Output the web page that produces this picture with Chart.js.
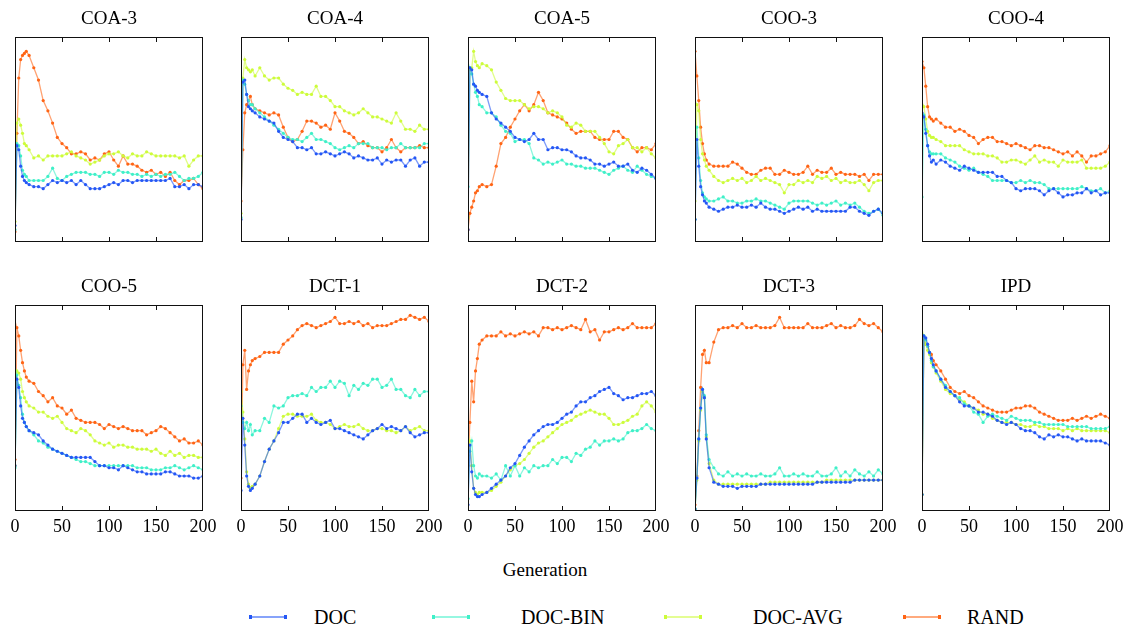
<!DOCTYPE html>
<html>
<head>
<meta charset="utf-8">
<script src="https://cdn.jsdelivr.net/npm/chart.js@4.4.1/dist/chart.umd.min.js"></script>
<style>
  html, body { margin: 0; padding: 0; background: #fff; }
  #page { position: relative; width: 1128px; height: 628px; overflow: hidden; font-family: 'Liberation Serif', serif; color: #000; }
  .panel { position: absolute; }
  #xlabel { position: absolute; left: 445px; width: 200px; top: 559px; text-align: center; font-size: 19px; }
  .lg-line { position: absolute; height: 2px; top: 616px; width: 36px; }
  .lg-line::before, .lg-line::after { content: ''; position: absolute; top: -1px; width: 3px; height: 4px; background: var(--c); }
  .lg-line::before { left: -1px; }
  .lg-line::after { right: -1px; }
  .lg-text { position: absolute; top: 605px; font-size: 20px; line-height: 24px; }
</style>
</head>
<body>
<div id="page"><div id="xlabel">Generation</div></div>
<script>
// generation at which each value was read
const generations = [0, 2, 4, 6, 8, 10, 12, 15,
  20, 25, 30, 35, 40, 45, 50, 55, 60, 65, 70, 75, 80, 85, 90, 95,
  100, 105, 110, 115, 120, 125, 130, 135, 140, 145, 150, 155, 160, 165, 170, 175,
  180, 185, 190, 195, 200];

const seriesNames = ['DOC', 'DOC-BIN', 'DOC-AVG', 'RAND'];
const seriesColors = ['#2457f5', '#3ff0c8', '#cdfc3a', '#ff6414'];
const panelTitles = ['COA-3', 'COA-4', 'COA-5', 'COO-3', 'COO-4', 'COO-5', 'DCT-1', 'DCT-2', 'DCT-3', 'IPD'];
const xTicks = [0, 50, 100, 150, 200];

// values on a 0-100 scale (no y labels in the source)
const coa3Doc  = [8,47,45,37,32,30,29,28, 27,27,26,28,30,29,30,29, 30,28,30,28,26,26,26,27, 28,29,28,30,30,29,30,30, 30,30,30,30,30,31,27,27, 28,26,28,28,27];
const coa3Bin  = [6,48,47,42,35,33,32,30, 30,30,30,32,36,31,30,32, 33,34,34,34,33,33,32,34, 34,33,35,34,34,33,33,32, 33,32,33,32,33,33,34,32, 30,31,31,32,34];
const coa3Avg  = [10,58,60,57,53,48,47,45, 41,42,40,42,42,42,42,43, 44,42,41,40,38,39,40,42, 43,43,44,42,41,43,42,42, 44,43,42,42,42,42,42,41, 42,37,40,42,42];
const coa3Rand = [5,53,80,89,91,92,93,91, 85,79,69,64,58,51,48,46, 43,43,44,43,40,41,40,43, 44,40,37,42,38,38,37,35, 34,35,33,34,32,34,30,28, 30,30,31,28,26];

const coa4Doc  = [11,78,79,72,66,65,64,63, 61,60,59,58,54,51,50,49, 46,46,45,46,43,43,44,43, 42,43,44,43,41,42,41,40, 40,41,38,40,39,40,40,37, 40,41,37,39,39];
const coa4Bin  = [12,79,77,72,69,67,67,65, 63,61,59,57,55,53,51,50, 50,49,51,53,50,50,49,48, 46,45,46,47,46,48,48,48, 46,46,46,45,46,46,48,46, 46,46,46,48,48];
const coa4Avg  = [14,80,89,85,84,83,84,81, 85,81,79,80,80,77,75,74, 72,73,72,72,76,71,71,69, 66,66,64,63,62,63,65,63, 61,61,60,59,58,63,59,55, 55,54,57,55,55];
const coa4Rand = [20,45,63,67,69,71,67,65, 64,63,62,63,62,56,51,49, 50,54,59,59,58,56,57,55, 63,59,54,53,51,48,49,47, 46,46,44,46,50,46,44,46, 46,46,47,46,46];

const coa5Doc  = [6,85,84,77,76,74,73,72, 71,63,60,58,56,54,51,50, 49,50,53,50,50,45,46,46, 45,45,44,42,41,41,40,38, 38,37,38,39,37,37,38,35, 34,36,35,33,31];
const coa5Bin  = [27,85,82,77,73,71,67,66, 63,63,61,57,54,53,49,50, 50,48,41,40,38,39,38,39, 40,38,38,37,37,36,36,36, 35,34,33,35,36,37,35,34, 37,35,33,32,31];
const coa5Avg  = [12,84,85,93,88,86,85,87, 86,84,78,74,70,69,69,69, 67,65,66,66,65,63,64,63, 61,57,56,58,57,54,54,54, 51,48,44,43,47,48,50,46, 46,44,46,43,41];
const coa5Rand = [6,14,17,20,24,25,27,28, 27,28,37,48,51,56,60,64, 67,64,67,73,69,63,62,61, 60,58,55,53,54,54,54,51, 50,50,50,54,54,51,50,46, 44,46,46,45,48];

const coo3Doc  = [11,50,37,27,23,20,19,17, 16,15,16,17,17,18,17,17, 18,17,19,17,16,16,15,14, 15,16,17,16,17,15,16,15, 15,15,15,15,15,17,17,15, 14,13,15,16,14];
const coo3Bin  = [11,56,41,30,24,22,21,20, 20,21,22,20,20,19,19,20, 20,21,20,20,19,18,17,16, 19,20,20,20,20,19,18,19, 18,19,20,18,19,18,19,17, 15,14,15,16,13];
const coo3Avg  = [20,67,64,50,43,40,37,35, 32,30,29,30,31,30,31,29, 30,32,30,31,30,29,28,24, 28,28,30,29,30,29,32,31, 32,30,31,29,30,29,29,30, 28,25,29,30,30];
const coo3Rand = [93,81,69,56,48,43,40,38, 37,37,37,37,39,38,36,34, 33,33,35,36,36,33,33,35, 34,33,33,34,37,33,35,34, 34,36,33,34,33,33,33,32, 33,30,33,33,33];

const coo4Doc  = [63,61,53,47,42,39,40,38, 40,39,37,36,35,37,36,35, 34,34,34,34,32,32,30,29, 26,25,26,26,26,25,23,25, 26,24,22,23,23,24,24,26, 24,25,23,24,24];
const coo4Bin  = [22,62,55,47,44,43,43,43, 43,41,40,39,37,36,35,36, 34,33,32,30,30,30,30,29, 29,30,29,30,29,29,28,26, 26,26,26,26,26,26,27,26, 25,25,26,24,25];
const coo4Avg  = [67,66,60,54,52,51,51,50, 49,47,47,47,47,45,44,43, 43,43,42,42,41,39,39,40, 40,39,38,40,42,39,40,39, 39,37,40,39,39,39,40,36, 36,36,36,37,39];
const coo4Rand = [88,85,76,66,61,60,59,60, 58,56,56,54,55,54,52,51, 48,50,51,51,49,49,48,47, 48,47,46,45,47,47,46,46, 45,44,43,44,42,44,42,39, 42,42,43,44,47];

const coo5Doc  = [22,64,60,51,45,43,41,39, 38,37,34,32,30,29,28,27, 26,26,26,26,26,24,22,22, 21,21,20,22,21,20,19,19, 18,18,18,18,19,19,18,17, 17,17,16,16,17];
const coo5Bin  = [21,66,61,55,47,43,41,39, 37,34,33,31,30,29,28,27, 26,25,24,24,23,22,22,22, 22,22,22,22,22,22,21,21, 21,20,20,20,21,21,22,21, 20,21,22,21,20];
const coo5Avg  = [22,68,67,64,58,55,53,51, 50,48,48,46,45,46,43,40, 39,38,40,39,37,34,33,32, 33,31,32,32,31,31,30,30, 30,29,30,28,27,29,27,28, 26,27,27,26,26];
const coo5Rand = [25,89,85,78,72,68,65,63, 62,58,56,53,55,51,50,47, 49,45,44,43,43,43,42,40, 42,41,40,41,40,39,39,39, 37,38,39,41,40,38,36,34, 35,33,33,34,32];

const dct1Doc  = [10,45,32,17,12,10,11,13, 17,24,30,34,38,43,43,45, 47,47,43,45,43,42,43,44, 40,40,39,38,37,36,35,37, 39,40,42,40,41,40,39,41, 38,36,37,38,38];
const dct1Bin  = [51,43,40,43,39,42,37,39, 39,45,43,51,50,51,55,56, 56,57,56,60,58,60,60,63, 60,63,62,56,61,59,62,61, 64,64,60,61,64,59,59,56, 55,59,56,58,58];
const dct1Avg  = [58,48,35,19,13,11,12,13, 17,24,30,34,40,46,47,47, 46,46,46,47,44,43,43,42, 40,41,42,41,41,42,40,39, 39,40,40,39,39,38,39,41, 39,40,41,39,39];
const dct1Rand = [16,71,78,59,68,71,73,74, 75,77,77,77,77,81,83,85, 88,90,91,90,89,90,91,92, 94,91,91,92,91,92,90,91, 89,90,90,90,91,92,93,93, 95,94,93,94,92];

const dct2Doc  = [3,32,19,11,8,7,7,8, 9,11,13,15,17,21,23,27, 31,34,37,39,41,42,42,43, 45,47,48,51,53,53,55,56, 58,59,60,57,56,54,55,55, 56,57,57,58,56];
const dct2Bin  = [6,29,34,22,17,16,18,17, 17,16,18,15,22,17,22,17, 21,19,22,21,22,22,25,23, 26,26,24,28,27,30,31,34, 32,34,34,35,34,35,38,39, 39,40,42,40,39];
const dct2Avg  = [27,34,22,11,9,8,9,9, 9,10,12,14,17,20,22,23, 25,28,31,33,34,36,38,40, 42,43,44,46,47,48,49,48, 47,47,45,42,42,43,44,46, 47,51,53,51,48];
const dct2Rand = [22,43,63,53,68,74,81,83, 85,85,85,87,85,86,85,86, 87,86,87,85,89,89,88,89, 88,89,90,89,88,93,87,88, 83,87,87,88,89,88,89,91, 89,89,89,89,91];

const dct3Doc  = [1,16,35,50,59,55,35,21, 14,13,12,12,12,11,12,12, 12,12,13,13,13,13,13,13, 13,13,13,13,13,13,14,14, 14,14,14,14,14,14,15,15, 15,15,15,15,15];
const dct3Bin  = [1,16,35,50,59,56,37,25, 21,18,17,19,17,18,17,18, 17,17,18,17,17,18,21,17, 17,18,17,18,17,17,19,17, 17,18,21,17,19,17,20,18, 17,19,17,20,18];
const dct3Avg  = [1,15,34,49,58,55,36,23, 15,13,13,13,13,13,13,13, 13,13,13,13,14,14,14,14, 14,14,14,14,14,14,14,14, 15,15,15,15,15,15,15,15, 15,15,15,15,15];
const dct3Rand = [3,17,39,60,76,78,72,72, 82,88,89,89,90,89,91,89, 89,90,89,89,89,90,94,89, 89,89,89,89,91,89,89,89, 90,91,89,90,89,89,90,93, 91,90,91,89,87];

const ipdDoc  = [8,85,84,81,77,74,71,68, 64,60,58,56,53,51,51,50, 48,48,47,46,44,43,42,43, 42,40,39,39,38,36,35,37, 36,37,36,36,35,34,35,34, 34,34,34,33,32];
const ipdBin  = [8,85,83,80,77,73,70,68, 64,61,58,56,55,52,51,48, 47,43,46,47,46,45,44,46, 45,44,44,44,43,43,42,42, 42,42,42,41,41,41,41,41, 40,40,40,40,41];
const ipdAvg  = [8,85,81,78,76,72,70,67, 63,59,57,56,54,53,51,50, 49,47,47,45,44,43,43,43, 42,42,41,41,42,41,41,40, 40,40,39,40,39,40,39,39, 39,39,39,39,38];
const ipdRand = [8,83,81,80,77,76,73,71, 68,64,60,58,57,58,56,55, 53,51,50,49,48,48,48,49, 50,50,51,51,50,48,47,46, 45,44,44,44,45,44,45,46, 45,46,47,46,45];

const panelSeries = [
  [coa3Doc, coa3Bin, coa3Avg, coa3Rand],
  [coa4Doc, coa4Bin, coa4Avg, coa4Rand],
  [coa5Doc, coa5Bin, coa5Avg, coa5Rand],
  [coo3Doc, coo3Bin, coo3Avg, coo3Rand],
  [coo4Doc, coo4Bin, coo4Avg, coo4Rand],
  [coo5Doc, coo5Bin, coo5Avg, coo5Rand],
  [dct1Doc, dct1Bin, dct1Avg, dct1Rand],
  [dct2Doc, dct2Bin, dct2Avg, dct2Rand],
  [dct3Doc, dct3Bin, dct3Avg, dct3Rand],
  [ipdDoc, ipdBin, ipdAvg, ipdRand]
];

// layout
const panelLefts = [15, 241, 468, 695, 922];
const rowTops = [37, 305];
const PLOT_W = 188, PLOT_H = 206, PAD_X = 20, TITLE_H = 31, AXIS_H = 30;

function withAlpha(hex, a) {
  const n = parseInt(hex.slice(1), 16);
  return 'rgba(' + (n >> 16) + ',' + ((n >> 8) & 255) + ',' + (n & 255) + ',' + a + ')';
}

// box round the plot with small inward ticks, top and bottom
const frameBox = {
  id: 'frameBox',
  afterDatasetsDraw(chart) {
    const { ctx, chartArea: a } = chart;
    const x = chart.scales.x;
    ctx.save();
    ctx.strokeStyle = '#111';
    ctx.lineWidth = 1;
    ctx.strokeRect(a.left + 0.5, a.top + 0.5, a.width - 1, a.height - 1);
    ctx.beginPath();
    xTicks.slice(1, -1).forEach(v => {
      const px = Math.round(x.getPixelForValue(v)) + 0.5;
      ctx.moveTo(px, a.top);
      ctx.lineTo(px, a.top + 5);
      ctx.moveTo(px, a.bottom);
      ctx.lineTo(px, a.bottom - 5);
    });
    ctx.stroke();
    ctx.restore();
  }
};

const page = document.getElementById('page');

panelTitles.forEach((title, i) => {
  const row = Math.floor(i / 5), col = i % 5;
  const bottomRow = row === 1;
  const w = PLOT_W + 2 * PAD_X;
  const h = TITLE_H + PLOT_H + (bottomRow ? AXIS_H : 3);

  const box = document.createElement('div');
  box.className = 'panel';
  box.style.left = (panelLefts[col] - PAD_X) + 'px';
  box.style.top = (rowTops[row] - TITLE_H) + 'px';
  const canvas = document.createElement('canvas');
  canvas.width = w;
  canvas.height = h;
  box.appendChild(canvas);
  page.appendChild(box);

  const datasets = panelSeries[i].map((vals, s) => ({
    label: seriesNames[s],
    data: vals.map((v, k) => ({ x: generations[k], y: v })),
    borderColor: withAlpha(seriesColors[s], 0.6),
    backgroundColor: seriesColors[s],
    borderWidth: 1.3,
    pointRadius: 1.6,
    pointBorderWidth: 0,
    tension: 0
  }));

  new Chart(canvas, {
    type: 'line',
    data: { datasets },
    options: {
      responsive: false,
      animation: false,
      layout: { padding: { left: PAD_X, right: PAD_X, top: 0, bottom: bottomRow ? 0 : 3 } },
      plugins: {
        legend: { display: false },
        tooltip: { enabled: false },
        title: {
          display: true,
          text: title,
          color: '#000',
          font: { family: 'Liberation Serif', size: 19, weight: 'normal', lineHeight: 1 },
          padding: { top: 4, bottom: 8 }
        }
      },
      scales: {
        x: {
          type: 'linear',
          min: 0,
          max: 200,
          display: bottomRow,
          grid: { display: false, drawTicks: false },
          border: { display: false },
          afterBuildTicks: s => { s.ticks = xTicks.map(v => ({ value: v })); },
          ticks: { color: '#000', padding: 5, maxRotation: 0, font: { family: 'Liberation Serif', size: 18 } },
          afterFit: s => { if (bottomRow) s.height = AXIS_H; }
        },
        y: { min: 0, max: 100, display: false }
      }
    },
    plugins: [frameBox]
  });
});

// legend below the grid
const legendLineX = [250, 433, 665, 904];
const legendTextX = [314, 521, 753, 967];
seriesNames.forEach((name, s) => {
  const line = document.createElement('div');
  line.className = 'lg-line';
  line.style.left = legendLineX[s] + 'px';
  line.style.background = withAlpha(seriesColors[s], 0.55);
  line.style.setProperty('--c', seriesColors[s]);
  page.appendChild(line);
  const txt = document.createElement('div');
  txt.className = 'lg-text';
  txt.style.left = legendTextX[s] + 'px';
  txt.textContent = name;
  page.appendChild(txt);
});
</script>
</body>
</html>
